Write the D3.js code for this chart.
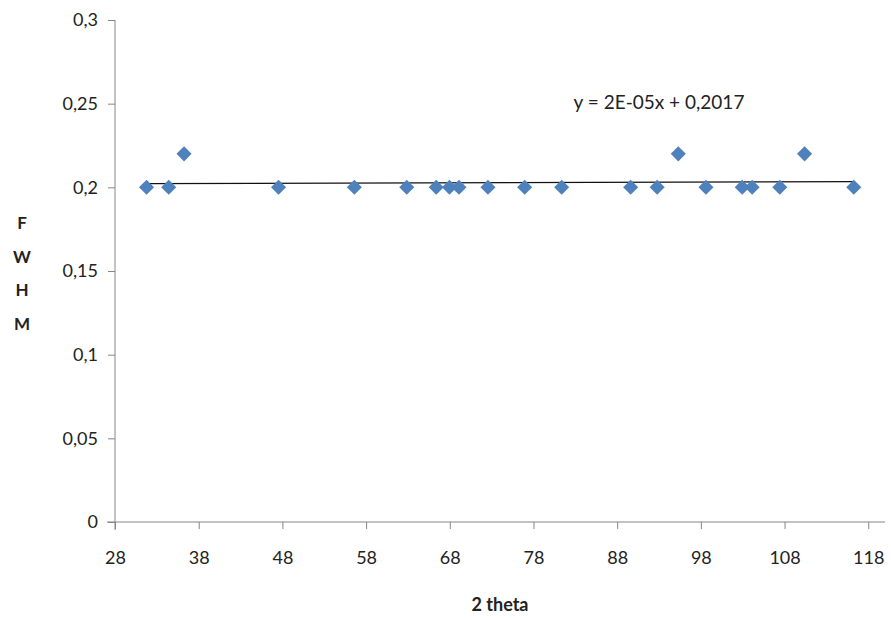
<!DOCTYPE html>
<html>
<head>
<meta charset="utf-8">
<script src="https://cdn.jsdelivr.net/npm/d3@7"></script>
<style>
  body { margin: 0; background: #fff; }
  text { font-family: 'Lato', 'Open Sans', sans-serif; fill: #222; }
</style>
</head>
<body>
<div id="chart"></div>
<script>
const width = 891
const height = 618

// 2 theta peak positions and their FWHM
const twoTheta = [31.77, 34.42, 36.25, 47.54, 56.6, 62.86, 66.38, 67.96, 69.1, 72.56, 76.95,
  81.37, 89.61, 92.78, 95.3, 98.61, 102.94, 104.13, 107.43, 110.39, 116.27]
const fwhm = [0.2, 0.2, 0.22, 0.2, 0.2, 0.2, 0.2, 0.2, 0.2, 0.2, 0.2,
  0.2, 0.2, 0.2, 0.22, 0.2, 0.2, 0.2, 0.2, 0.22, 0.2]
const xTicks = [28, 38, 48, 58, 68, 78, 88, 98, 108, 118]
const yTicks = [0, 0.05, 0.1, 0.15, 0.2, 0.25, 0.3]
const trendLabel = 'y = 2E-05x + 0,2017'
const yTitle = ['F', 'W', 'H', 'M']

const margin = { left: 115, right: 6, top: 20, bottom: 96 }

const svg = d3.select('#chart').append('svg')
  .attr('width', width)
  .attr('height', height)

const x = d3.scaleLinear().domain([28, 120]).range([margin.left, width - margin.right])
const y = d3.scaleLinear().domain([0, 0.3]).range([height - margin.bottom, margin.top])

const fmt = d => String(d).replace('.', ',')
const axisColor = '#868686'

// y axis
const gy = svg.append('g')
  .attr('transform', `translate(${margin.left},0)`)
  .call(d3.axisLeft(y).tickValues(yTicks).tickFormat(fmt).tickSize(7).tickPadding(10))
gy.select('.domain').attr('stroke', axisColor).attr('d', `M0,${y(0.3)}V${y(0) + 8}`)
gy.selectAll('.tick line').attr('stroke', axisColor)
gy.selectAll('.tick text').style('font-size', '18px').attr('fill', '#222')

// x axis
const gx = svg.append('g')
  .attr('transform', `translate(0,${y(0)})`)
  .call(d3.axisBottom(x).tickValues(xTicks).tickSize(7).tickPadding(22))
gx.select('.domain').attr('stroke', axisColor).attr('d', `M${margin.left - 8},0H${x(120)}`)
gx.selectAll('.tick line').attr('stroke', axisColor)
gx.selectAll('.tick text').style('font-size', '18px').attr('fill', '#222')

// linear trend line from least squares
const mx = d3.mean(twoTheta)
const my = d3.mean(fwhm)
const slope = d3.sum(twoTheta, (v, i) => (v - mx) * (fwhm[i] - my)) /
  d3.sum(twoTheta, v => (v - mx) * (v - mx))
const intercept = my - slope * mx
const ends = d3.extent(twoTheta)
svg.append('line')
  .attr('x1', x(ends[0]))
  .attr('y1', y(intercept + slope * ends[0]))
  .attr('x2', x(ends[1]))
  .attr('y2', y(intercept + slope * ends[1]))
  .attr('stroke', '#111')
  .attr('stroke-width', 1.2)

// points
svg.append('g')
  .selectAll('path')
  .data(twoTheta)
  .enter()
  .append('path')
  .attr('d', d3.symbol(d3.symbolDiamond2, 145))
  .attr('transform', (d, i) => `translate(${x(d)},${y(fwhm[i])})`)
  .attr('fill', '#4f81bd')

svg.append('text')
  .attr('x', x(93))
  .attr('y', y(0.247))
  .attr('text-anchor', 'middle')
  .style('font-size', '19px')
  .text(trendLabel)

// axis titles
svg.append('text')
  .attr('x', x(74))
  .attr('y', 611)
  .attr('text-anchor', 'middle')
  .style('font-size', '18px')
  .style('font-weight', 'bold')
  .text('2 theta')

svg.append('g')
  .selectAll('text')
  .data(yTitle)
  .enter()
  .append('text')
  .attr('x', 22)
  .attr('y', (d, i) => 229 + i * 33.7)
  .attr('text-anchor', 'middle')
  .style('font-size', '17px')
  .style('font-weight', 'bold')
  .text(d => d)
</script>
</body>
</html>
